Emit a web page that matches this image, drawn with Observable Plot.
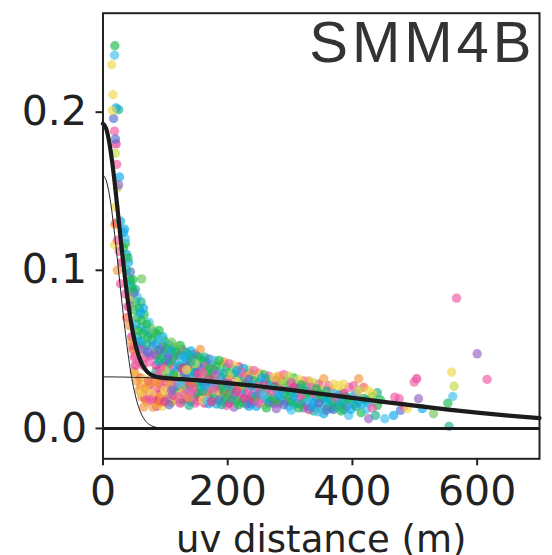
<!DOCTYPE html>
<html>
<head>
<meta charset="utf-8">
<script src="https://cdn.jsdelivr.net/npm/d3@7"></script>
<script src="https://cdn.jsdelivr.net/npm/@observablehq/plot@0.6"></script>
<style>
  html, body { margin: 0; padding: 0; background: #fff; }
</style>
</head>
<body>
<div id="chart"></div>
<script>
// ---------- text ----------
const title = "SMM4B";
const xLabel = "uv distance (m)";
const xTicks = [0, 200, 400, 600];
const yTicks = [0, 0.1, 0.2];

// ---------- model curves ----------
const modelUv       = [0, 5, 10, 15, 20, 25, 30, 35, 40, 45, 50, 55, 60, 65, 70, 75, 80, 90, 100, 125, 150, 200, 250, 300, 350, 400, 450, 500, 550, 600, 650, 700];
const modelTotal    = [0.1928, 0.1898, 0.1811, 0.1677, 0.1510, 0.1324, 0.1137, 0.0960, 0.0803, 0.0671, 0.0566, 0.0487, 0.0429, 0.0389, 0.0362, 0.0345, 0.0334, 0.0323, 0.0318, 0.0312, 0.0305, 0.0287, 0.0267, 0.0244, 0.0219, 0.0193, 0.0168, 0.0144, 0.0121, 0.0100, 0.0081, 0.0065];
const modelCompact  = [0.1600, 0.1570, 0.1483, 0.1349, 0.1182, 0.0997, 0.0810, 0.0633, 0.0477, 0.0345, 0.0241, 0.0162, 0.0105, 0.0065, 0.0039, 0.0023, 0.0013, 0.0004, 0.0001, 0, 0, 0, 0, 0, 0, 0, 0, 0, 0, 0, 0, 0];
const modelExtended = [0.0326, 0.0326, 0.0326, 0.0326, 0.0326, 0.0325, 0.0325, 0.0325, 0.0324, 0.0324, 0.0323, 0.0323, 0.0322, 0.0322, 0.0321, 0.0320, 0.0319, 0.0318, 0.0316, 0.0311, 0.0305, 0.0287, 0.0267, 0.0244, 0.0219, 0.0193, 0.0168, 0.0144, 0.0121, 0.0100, 0.0081, 0.0065];

// ---------- visibilities [uv distance, amplitude], grouped by colour ----------
const pink = [[18.5,0.188],[22,0.167],[23,0.119],[28,0.0915],[26,0.112],[36,0.085],
  [52,0.046],[58,0.042],[64,0.040],[74,0.042],[72,0.021],[76,0.018],[82,0.025],[88,0.022],[92,0.027],
  [48,0.052],[50,0.045],[85,0.022],[92,0.038],[99,0.030],[106,0.022],[113,0.039],[120,0.020],[134,0.031],
  [141,0.023],[148,0.016],[156,0.032],[163,0.039],[170,0.020],[178,0.025],[194,0.029],[202,0.041],[210,0.027],
  [218,0.020],[226,0.032],[234,0.024],[242,0.0367],[250,0.016],[266,0.033],[274,0.019],[290,0.034],[298,0.026],
  [314,0.019],[322,0.030],[338,0.022],[362,0.027],[394,0.026],[402,0.027],[432,0.013],[468,0.0198],
  [475,0.0188],[499,0.0293],[482.6,0.0139],[567,0.0824],[616,0.031],
  [89,0.034],[103,0.0255],[117,0.029],[124,0.0345],[131,0.0215],[138,0.040],[145,0.0255],[152,0.0175],[160,0.0355],
  [167,0.0235],[174,0.0405],[182,0.0335],[190,0.0205],[198,0.0145],[206,0.031],[222,0.0355],[230,0.0215],[246,0.0265],
  [254,0.019],[270,0.0235],[286,0.0245],[302,0.029],[318,0.0215],[326,0.0145],[334,0.026],[350,0.0245],[374,0.0195],[406,0.022]];
const magenta = [[21,0.180],[30,0.105],[40,0.077],[54,0.052],[68,0.045],[82,0.047],[79,0.019],[86,0.014],[52,0.040],[46,0.058],
  [85,0.040],[92,0.026],[99,0.017],[113,0.021],[127,0.038],[134,0.019],[148,0.047],[156,0.020],[163,0.016],[170,0.032],
  [186,0.024],[202,0.016],[218,0.039],[226,0.019],[242,0.017],[258,0.028],[282,0.016],[306,0.026],[330,0.012],[346,0.028],
  [386,0.022],[503,0.0314],
  [96,0.0395],[103,0.032],[124,0.016],[138,0.0265],[152,0.0345],[167,0.0295],[174,0.017],[198,0.0315],[214,0.0235],
  [238,0.0205],[262,0.0245],[278,0.030],[294,0.0175]];
const purple = [[25,0.154],[46,0.082],[60,0.050],[76,0.046],[85,0.046],[106,0.047],[120,0.026],[127,0.050],[148,0.022],
  [178,0.037],[210,0.0135],[250,0.022],[274,0.0156],[322,0.013],[426,0.0061],[506,0.0188],[600,0.0472],
  [110,0.024],[96,0.052],[238,0.0155],[278,0.0125],[342,0.013]];
const blue = [[17,0.196],[20,0.183],[44,0.099],[50,0.086],[66,0.050],[72,0.048],[80,0.052],[92,0.050],[106,0.015],[113,0.045],
  [134,0.043],[141,0.017],[156,0.038],[170,0.044],[186,0.018],[202,0.028],[234,0.031],[266,0.016],[290,0.015],[314,0.025],
  [346,0.016],[370,0.012],[477,0.0114],
  [103,0.044],[124,0.0465],[131,0.0345],[145,0.0445],[160,0.0295],[182,0.0275],[206,0.0185],[230,0.0155],[358,0.0115],[390,0.014]];
const cyan = [[21,0.2027],[26.5,0.159],[28,0.131],[34.5,0.126],[33,0.124],[41,0.105],[38,0.110],[45,0.090],[65,0.076],
  [53,0.066],[60,0.073],[68,0.062],[75,0.060],[58,0.055],[96,0.058],[85,0.053],[99,0.042],[106,0.053],[113,0.027],[120,0.040],
  [134,0.024],[141,0.049],[148,0.035],[163,0.027],[170,0.0156],[186,0.036],[194,0.017],[210,0.021],[226,0.038],[234,0.014],
  [242,0.023],[266,0.027],[282,0.021],[298,0.014],[306,0.020],[322,0.018],[338,0.016],[354,0.0093],[362,0.020],[378,0.021],
  [386,0.012],[402,0.015],[426,0.016],[466,0.0082],[512,0.0125],
  [89,0.0425],[103,0.019],[110,0.049],[117,0.036],[131,0.0455],[138,0.0335],[145,0.019],[152,0.0395],[167,0.0415],[174,0.0285],
  [182,0.0155],[190,0.0325],[198,0.0255],[214,0.0365],[222,0.0225],[238,0.027],[246,0.014],[254,0.032],[262,0.0185],[278,0.0235],
  [286,0.0185],[302,0.023],[310,0.016],[326,0.0265],[334,0.0135],[342,0.019],[358,0.017],[366,0.0125],[382,0.017],[398,0.012],[414,0.0155]];
const sky = [[18.5,0.236],[36,0.120],[42,0.095],[55,0.083],[62,0.064],[74,0.067],[80,0.061],[92,0.057],[106,0.035],[127,0.044],
  [178,0.043],[258,0.021],[330,0.017],[346,0.0105],[370,0.022],[394,0.0082],[402,0.021],[452,0.0061],[561,0.0202],
  [96,0.0455],[124,0.0285],[152,0.0285],[167,0.0175],[302,0.0115],[422,0.012]];
const teal = [[25,0.2016],[38,0.100],[52,0.088],[61,0.080],[55,0.058],[63,0.055],[70,0.053],[78,0.056],[85,0.036],[99,0.048],
  [113,0.051],[127,0.032],[141,0.042],[156,0.026],[163,0.045],[178,0.019],[194,0.035],[218,0.033],[234,0.018],[250,0.029],
  [274,0.026],[290,0.022],[306,0.015],[322,0.024],[338,0.011],[354,0.019],[370,0.016],[386,0.016],[410,0.017],[437,0.0082],
  [440,0.0226],[555,0.0013],
  [89,0.0565],[103,0.0385],[117,0.023],[131,0.0405],[138,0.0145],[152,0.0455],[160,0.0235],[174,0.0345],[190,0.015],[198,0.0385],
  [206,0.0245],[222,0.0165],[230,0.0285],[262,0.0315],[270,0.0175],[294,0.024],[310,0.028],[318,0.0155],[334,0.0195],[350,0.0125],
  [358,0.0235],[374,0.0135],[390,0.020],[406,0.014],[422,0.018]];
const green = [[19,0.242],[36,0.117],[33,0.114],[44,0.0936],[47,0.0883],[52,0.080],[40,0.108],[48,0.094],
  [50,0.075],[55,0.070],[58,0.076],[62,0.068],[66,0.072],[70,0.066],[57,0.062],[64,0.060],[72,0.058],[90,0.062],
  [85,0.060],[92,0.044],[99,0.055],[106,0.041],[113,0.034],[120,0.046],[124,0.0525],[127,0.018],[134,0.048],[141,0.036],
  [148,0.028],[156,0.044],[170,0.038],[178,0.031],[186,0.043],[194,0.023],[210,0.034],[218,0.015],[226,0.025],[242,0.030],
  [258,0.034],[266,0.020],[282,0.027],[298,0.020],[306,0.032],[314,0.013],[330,0.023],[346,0.022],[362,0.014],[378,0.015],
  [394,0.019],[418,0.019],[432,0.020],[445,0.018],[440,0.0145],[553,0.016],
  [89,0.049],[96,0.0335],[103,0.0505],[110,0.043],[117,0.0485],[124,0.0395],[131,0.0275],[138,0.0465],[145,0.0385],[152,0.0225],
  [160,0.0425],[167,0.0355],[174,0.0225],[182,0.0395],[190,0.0265],[198,0.0195],[206,0.0375],[214,0.0175],[222,0.0285],[238,0.034],
  [246,0.020],[254,0.025],[262,0.013],[270,0.0305],[278,0.0175],[294,0.030],[302,0.017],[310,0.022],[318,0.0275],[326,0.0205],
  [342,0.025],[350,0.0185],[366,0.018],[382,0.011],[398,0.018],[414,0.010]];
const lightGreen = [[62,0.0946],[78,0.063],[84,0.058],[120,0.052],[530,0.0093],[110,0.0545]];
const lime = [[20,0.174],[23,0.152],[49,0.083],[50,0.063],[99,0.037],[113,0.018],[148,0.041],[170,0.026],[202,0.034],
  [234,0.037],[298,0.033],[338,0.029],[410,0.024],[563,0.0267],[190,0.0405],[286,0.0305],[382,0.0235]];
const yellow = [[14,0.230],[16,0.211],[15,0.201],[20,0.140],[18.5,0.116],[56,0.048],[53,0.034],
  [66,0.031],[71,0.026],[63,0.023],[95,0.014],[78,0.022],[85,0.016],[99,0.024],[120,0.033],[134,0.037],[163,0.033],
  [186,0.030],[210,0.040],[258,0.015],[274,0.0324],[290,0.028],[314,0.031],[354,0.025],[370,0.028],[378,0.027],
  [386,0.028],[426,0.024],[432,0.022],[488,0.0125],[559,0.0356],
  [89,0.027],[110,0.0305],[124,0.0215],[145,0.032],[160,0.018],[182,0.021],[214,0.0295],[246,0.0335]];
const orange = [[19,0.129],[23,0.100],[42,0.065],[46,0.055],[50,0.036],
  [55,0.030],[58,0.024],[62,0.020],[65,0.0135],[70,0.017],[60,0.027],[75,0.028],[80,0.0135],[85,0.020],[68,0.025],[90,0.016],
  [85,0.029],[92,0.019],[106,0.028],[127,0.025],[156,0.050],[163,0.021],[194,0.042],[218,0.026],[250,0.035],[282,0.033],
  [330,0.030],[354,0.0314],[410,0.0314],[96,0.021],[110,0.0165],[138,0.0195],[230,0.0345],[366,0.0245]];
const red = [[21,0.130],[38,0.070],[48,0.050],[60,0.032],[73,0.030],[67,0.019],[84,0.030],[92,0.031],[141,0.029],[202,0.022],[418,0.026],[89,0.0175]];

const groupNames  = ["pink","magenta","purple","blue","cyan","sky","teal","green","lightGreen","lime","yellow","orange","red"];
const groupColors = ["#f05aa2","#e0368c","#9262c6","#5470d2","#0aaaea","#40c0ee","#18b090","#1cbc4c","#6cc658","#c2da48","#f0da4c","#f5963c","#f0604a"];
const groupData   = [pink, magenta, purple, blue, cyan, sky, teal, green, lightGreen, lime, yellow, orange, red];

// ---------- tables for Plot ----------
const points = groupData
  .flatMap((arr, gi) => arr.map(([uv, amp], i) => ({uv, amp, group: groupNames[gi], order: (i * 7 + gi * 5) % 13})))
  .sort((a, b) => (a.order - b.order) || (a.uv - b.uv));
const model = modelUv.map((uv, i) => ({uv, total: modelTotal[i], compact: modelCompact[i], extended: modelExtended[i]}));

const ink = "#222";
const chart = Plot.plot({
  width: 552,
  height: 555,
  marginLeft: 102.5,
  marginRight: 13,
  marginTop: 12.7,
  marginBottom: 96.7,
  style: {fontFamily: "DejaVu Sans", background: "#fff", overflow: "visible"},
  x: {domain: [0, 700]},
  y: {domain: [-0.0192, 0.2626]},
  color: {domain: groupNames, range: groupColors},
  marks: [
    Plot.dot(points, {x: "uv", y: "amp", fill: "group", r: 4.7, fillOpacity: 0.66, stroke: "none"}),
    Plot.line(model, {x: "uv", y: "compact", stroke: ink, strokeWidth: 1, curve: "monotone-x"}),
    Plot.line(model, {x: "uv", y: "extended", stroke: ink, strokeWidth: 1, curve: "monotone-x"}),
    Plot.ruleY([0], {stroke: "#1a1a1a", strokeWidth: 3}),
    Plot.line(model, {x: "uv", y: "total", stroke: "#1c1c1c", strokeWidth: 4.2, curve: "monotone-x"}),
    Plot.frame({stroke: ink, strokeWidth: 2}),
    Plot.axisX(xTicks, {tickSize: 7, tickPadding: 10.5, fontSize: 41, color: ink, strokeWidth: 2, label: null}),
    Plot.axisY(yTicks, {tickSize: 7, tickPadding: 9, fontSize: 41, color: ink, strokeWidth: 2, label: null, tickFormat: d3.format(".1f")}),
    Plot.text([xLabel], {frameAnchor: "bottom", lineAnchor: "bottom", dy: 93.4, fontSize: 37, fill: ink}),
    Plot.text([title], {frameAnchor: "top-right", lineAnchor: "bottom", dx: -4, dy: 49, fontSize: 58, fontFamily: "Liberation Sans", fill: "#333"})
  ]
});
for (const t of chart.querySelectorAll("text")) {
  if (t.textContent === title) t.setAttribute("letter-spacing", "4");
}
document.getElementById("chart").appendChild(chart);
</script>
</body>
</html>
